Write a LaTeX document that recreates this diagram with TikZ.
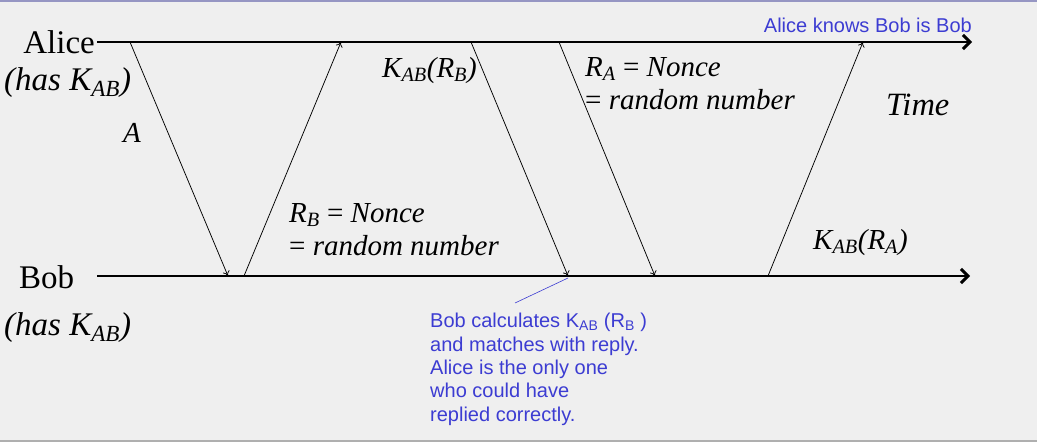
\documentclass[tikz,border=0pt]{standalone}
\usepackage{fontspec}
\setmainfont{Liberation Serif}
\newfontfamily\notefont{Liberation Sans}
\usetikzlibrary{arrows.meta}
\definecolor{notecol}{RGB}{60,60,210}
\definecolor{bgcol}{RGB}{239,239,239}
\definecolor{topcol}{RGB}{150,150,195}
\definecolor{botcol}{RGB}{175,175,175}
\tikzset{
  timeline/.style={line width=2.9pt, -{Straight Barb[length=7pt,width=14pt]}},
  msg/.style={line width=0.75pt, -{To[length=5pt,width=7pt]}},
  who/.style={font=\fontsize{33}{35}\selectfont, inner sep=0pt},
  haskey/.style={font=\fontsize{33}{35}\selectfont\itshape, inner sep=0pt},
  lab/.style={font=\fontsize{29}{33}\selectfont\itshape, inner sep=0pt},
  note/.style={font=\notefont\fontsize{20}{23.3}\selectfont, text=notecol, inner sep=0pt, align=left},
}

\begin{document}
\begin{tikzpicture}[x=1pt,y=-1pt]
  % background and frame
  \fill[bgcol] (0,0) rectangle (1037,442);
  \fill[topcol] (0,0) rectangle (1037,1.5);
  \fill[botcol] (0,440) rectangle (1037,442);

  % the two parties
  \node[who, anchor=base east] (alice) at (95,53) {Alice};
  \node[haskey, anchor=base west] (alicekey) at (4,90) {(has K\textsubscript{AB})};
  \node[who, anchor=base west] (bob) at (19,288) {Bob};
  \node[haskey, anchor=base west] (bobkey) at (4,335) {(has K\textsubscript{AB})};

  % time lines
  \coordinate (a0) at (97,42);
  \coordinate (a1) at (972,42);
  \coordinate (b0) at (97,276);
  \coordinate (b1) at (970,276);
  \draw[timeline] (a0) -- (a1);
  \draw[timeline] (b0) -- (b1);

  % message end points
  \coordinate (s1) at (130,42);  \coordinate (r1) at (228,276);
  \coordinate (s2) at (244,276); \coordinate (r2) at (341,42);
  \coordinate (s3) at (471,42);  \coordinate (r3) at (568,276);
  \coordinate (s4) at (559,42);  \coordinate (r4) at (655,276);
  \coordinate (s5) at (768,276); \coordinate (r5) at (863,42);

  \draw[msg] (s1) -- (r1);
  \draw[msg] (s2) -- (r2);
  \draw[msg] (s3) -- (r3);
  \draw[msg] (s4) -- (r4);
  \draw[msg] (s5) -- (r5);

  % message labels
  \node[lab, anchor=base west] (m1) at (123,142) {A};
  \node[lab, anchor=base west, align=left] (m2) at (289,255)
    {R\textsubscript{B} \textup{=} Nonce\\\textup{=} random number};
  \node[lab, anchor=base west] (m3) at (382,77) {K\textsubscript{AB}(R\textsubscript{B})};
  \node[lab, anchor=base west, align=left] (m4) at (585,109)
    {R\textsubscript{A} \textup{=} Nonce\\\textup{=} random number};
  \node[lab, anchor=base west] (m5) at (813,249) {K\textsubscript{AB}(R\textsubscript{A})};
  \node[lab, font=\fontsize{32.5}{34}\selectfont\itshape, anchor=base west] (time) at (886,115) {Time};

  % notes
  \node[note, anchor=base east] (knows) at (972,32) {Alice knows Bob is Bob};
  \node[note, anchor=base west] (calc) at (430,421)
    {Bob calculates K\textsubscript{AB} (R\textsubscript{B} )\\and matches with reply.\\Alice is the only one\\who could have\\replied correctly.};
  \coordinate (c0) at (568,278);
  \coordinate (c1) at (515,303);
  \draw[notecol, line width=0.6pt] (c0) -- (c1);
\end{tikzpicture}
\end{document}
